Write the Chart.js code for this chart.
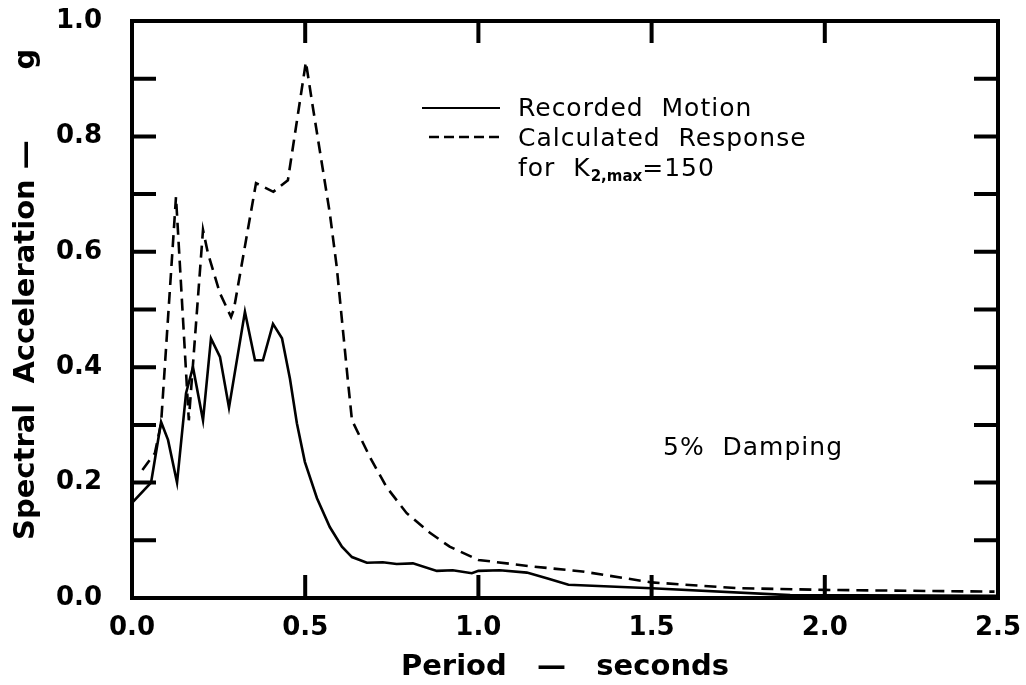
<!DOCTYPE html>
<html>
<head>
<meta charset="utf-8">
<script src="https://cdn.jsdelivr.net/npm/chart.js@4.4.1/dist/chart.umd.min.js"></script>
<style>
  body { margin: 0; background: #fff; }
  #wrap { position: relative; width: 1026px; height: 685px; }
  .note { position: absolute; font-family: "DejaVu Sans", sans-serif; font-size: 25px;
          letter-spacing: 1px; line-height: 30px; color: #000; white-space: pre; }
  .note sub { font-size: 15px; font-weight: bold; letter-spacing: 0; vertical-align: -5px; }
  .swatch { position: absolute; }
</style>
</head>
<body>
<div id="wrap">
  <canvas id="spectrum" width="1026" height="685"></canvas>
  <svg class="swatch" style="left:422px; top:106px" width="78" height="4">
    <line x1="0" y1="2" x2="78" y2="2" stroke="#000" stroke-width="2.2"/>
  </svg>
  <svg class="swatch" style="left:429px; top:135px" width="71" height="4">
    <line x1="0" y1="2" x2="71" y2="2" stroke="#000" stroke-width="2.5" stroke-dasharray="10 5"/>
  </svg>
  <div class="note" style="left:518px; top:93px">Recorded  Motion</div>
  <div class="note" style="left:518px; top:123px">Calculated  Response</div>
  <div class="note" style="left:518px; top:153px">for  K<sub>2,max</sub>=150</div>
  <div class="note" style="left:663px; top:432px">5%  Damping</div>
</div>
<script>
// Werte (Periode in s, Spektralbeschleunigung in g)
var recordedPeriod = [0, 0.055, 0.084, 0.104, 0.13, 0.156, 0.176, 0.205, 0.228, 0.254, 0.28,
    0.326, 0.355, 0.378, 0.407, 0.433, 0.456, 0.476, 0.499, 0.534, 0.571, 0.606, 0.635,
    0.678, 0.724, 0.764, 0.811, 0.88, 0.926, 0.981, 1.0, 1.062, 1.14, 1.2, 1.26, 1.5, 1.9, 2.5];
var recordedAccel = [0.165, 0.2, 0.305, 0.274, 0.2, 0.355, 0.4, 0.308, 0.45, 0.418, 0.33,
    0.496, 0.412, 0.412, 0.475, 0.45, 0.38, 0.303, 0.236, 0.173, 0.123, 0.089, 0.071,
    0.061, 0.062, 0.059, 0.06, 0.047, 0.048, 0.043, 0.047, 0.048, 0.044, 0.034, 0.023, 0.017, 0.005, 0.004];

var calculatedPeriod = [0.03, 0.066, 0.084, 0.127, 0.164, 0.205, 0.219, 0.254, 0.286, 0.294,
    0.358, 0.408, 0.45, 0.502, 0.522, 0.542, 0.571, 0.591, 0.623, 0.635, 0.687, 0.735,
    0.793, 0.86, 0.917, 1.0, 1.15, 1.3, 1.5, 1.75, 2.0, 2.49];
var calculatedAccel = [0.222, 0.251, 0.303, 0.695, 0.308, 0.638, 0.598, 0.528, 0.487, 0.5,
    0.719, 0.704, 0.724, 0.929, 0.851, 0.776, 0.667, 0.574, 0.378, 0.308, 0.244, 0.192,
    0.147, 0.113, 0.089, 0.066, 0.055, 0.046, 0.027, 0.017, 0.014, 0.011];

var xTickLabels = ['0.0', '0.5', '1.0', '1.5', '2.0', '2.5'];
var yTickLabels = ['0.0', '0.2', '0.4', '0.6', '0.8', '1.0'];

function toPoints(xs, ys) {
    return xs.map(function(x, i) { return {x: x, y: ys[i]}; });
}

// Rahmen und nach innen zeigende Striche, wie im Original
var frame = {
    id: 'frame',
    afterDatasetsDraw: function(chart) {
        var ctx = chart.ctx;
        var a = chart.chartArea;
        var xs = chart.scales.x, ys = chart.scales.y;
        ctx.save();
        ctx.strokeStyle = '#000';
        ctx.lineWidth = 4;
        ctx.lineCap = 'butt';
        ctx.beginPath();
        ys.ticks.forEach(function(t) {
            var py = ys.getPixelForValue(t.value);
            ctx.moveTo(a.left, py); ctx.lineTo(a.left + 24, py);
            ctx.moveTo(a.right, py); ctx.lineTo(a.right - 24, py);
        });
        xs.ticks.forEach(function(t) {
            var px = xs.getPixelForValue(t.value);
            ctx.moveTo(px, a.bottom); ctx.lineTo(px, a.bottom - 23);
            ctx.moveTo(px, a.top); ctx.lineTo(px, a.top + 22);
        });
        ctx.stroke();
        ctx.strokeRect(a.left, a.top, a.right - a.left, a.bottom - a.top);
        ctx.restore();
    }
};

var tickFont = {family: 'DejaVu Sans', size: 26, weight: 'bold'};
var titleFont = {family: 'DejaVu Sans', size: 29, weight: 'bold'};

new Chart(document.getElementById('spectrum').getContext('2d'), {
    type: 'line',
    data: {
        datasets: [{
            label: 'Recorded Motion',
            data: toPoints(recordedPeriod, recordedAccel),
            borderColor: '#000',
            borderWidth: 2.6,
            pointRadius: 0,
            tension: 0
        }, {
            label: 'Calculated Response',
            data: toPoints(calculatedPeriod, calculatedAccel),
            borderColor: '#000',
            borderWidth: 2.6,
            borderDash: [12, 7],
            pointRadius: 0,
            tension: 0
        }]
    },
    options: {
        responsive: false,
        animation: false,
        layout: {padding: {top: 21, right: 28, left: 0, bottom: 0}},
        plugins: {legend: {display: false}, tooltip: {enabled: false}},
        scales: {
            x: {
                type: 'linear', min: 0, max: 2.5,
                grid: {display: false, drawTicks: false},
                border: {display: false},
                ticks: {
                    stepSize: 0.5, padding: 15, color: '#000', font: tickFont,
                    callback: function(v) { return xTickLabels[Math.round(v * 2)]; }
                },
                title: {display: true, text: 'Period   —   seconds', color: '#000', font: titleFont,
                        padding: {top: 0, bottom: 0}},
                afterFit: function(s) {
                    s.height = 87;
                    s.paddingLeft = 0;
                    s.paddingRight = 0;
                }
            },
            y: {
                min: 0, max: 1,
                grid: {display: false, drawTicks: false},
                border: {display: false},
                ticks: {
                    stepSize: 0.1, padding: 30, color: '#000', font: tickFont,
                    callback: function(v) {
                        var k = Math.round(v * 10);
                        return k % 2 === 0 ? yTickLabels[k / 2] : '';
                    }
                },
                title: {display: true, text: '   Spectral  Acceleration —       g', color: '#000',
                        font: titleFont, padding: {top: 9, bottom: 0}},
                afterFit: function(s) {
                    s.width = 132;
                    s.paddingTop = 0;
                    s.paddingBottom = 0;
                }
            }
        }
    },
    plugins: [frame]
});
</script>
</body>
</html>
